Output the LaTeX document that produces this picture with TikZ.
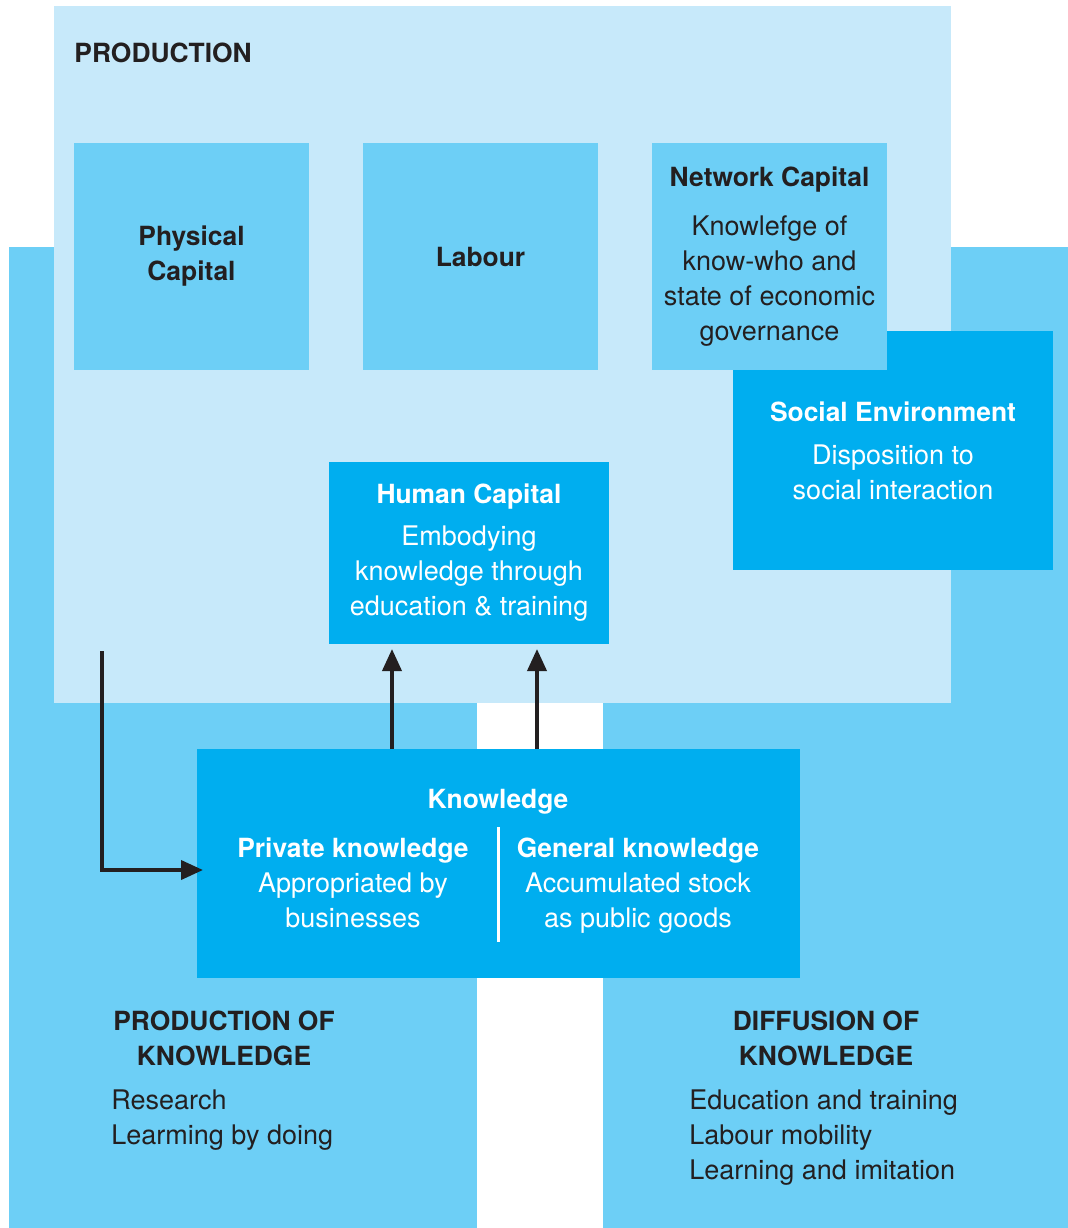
\documentclass[tikz,border=0pt]{standalone}
\usepackage{fontspec}
\setmainfont{TeX Gyre Heros}
\usetikzlibrary{arrows.meta,positioning,calc}

\definecolor{paleblue}{HTML}{C7E9FA}
\definecolor{midblue}{HTML}{6DCFF6}
\definecolor{deepblue}{HTML}{00AEEF}
\definecolor{ink}{HTML}{231F20}

\newcommand\bodysize{\fontsize{13.5}{17.5}\selectfont}
\newcommand\headsize{\fontsize{13.2}{17.5}\selectfont\bfseries}

\tikzset{
  zone/.style={fill=#1, inner sep=0pt, outer sep=0pt, anchor=north west},
  panel/.style={zone=#1, align=center, font=\bodysize},
  head/.style={inner sep=0pt, align=center, font=\headsize, text=ink},
  plain/.style={inner sep=0pt, align=left, font=\bodysize, text=ink},
  flow/.style={draw=ink, line width=1.9pt, -{Triangle[length=11pt,width=9.5pt]}},
  divider/.style={draw=white, line width=1.5pt}
}

\begin{document}
\begin{tikzpicture}[x=0.5pt, y=-0.5pt]
  \useasboundingbox (0,0) rectangle (1068,1228);

  \node[zone=midblue, minimum width=234pt, minimum height=490.5pt]   (prodknow) at (9,247)   {};
  \node[zone=midblue, minimum width=232.5pt, minimum height=490.5pt] (diffknow) at (603,247) {};
  \node[zone=paleblue, minimum width=448.5pt, minimum height=348.5pt] (production) at (54,6) {};

  \node[panel=midblue, minimum width=117.5pt, minimum height=113.5pt, text=ink] (physical) at (74,143)
    {\headsize Physical\\\headsize Capital};
  \node[panel=midblue, minimum width=117.5pt, minimum height=113.5pt, text=ink] (labour) at (363,143)
    {\headsize Labour};
  \node[panel=deepblue, minimum width=160pt, minimum height=119.5pt, text=white] (social) at (733,331)
    {{\headsize Social Environment}\\[4pt] Disposition to\\ social interaction};
  \node[panel=midblue, minimum width=117.5pt, minimum height=113.5pt, text=ink] (network) at (652,143)
    {{\headsize Network Capital}\\[7pt] Knowlefge of\\ know-who and\\ state of economic\\ governance};
  \node[panel=deepblue, minimum width=140pt, minimum height=91pt, text=white] (human) at (329,462)
    {{\headsize Human Capital}\\[3.5pt] Embodying\\ knowledge through\\ education \& training};
  \node[zone=deepblue, minimum width=301.5pt, minimum height=114.5pt] (knowledge) at (197,749) {};

  \node[head, anchor=west] (prodtitle) at (74,53) {PRODUCTION};

  \node[head, text=white] (knowtitle) at (498,802) {Knowledge};
  \node[head, text=white, font=\bodysize] (private) at (353,883)
    {{\headsize Private knowledge}\\ Appropriated by\\ businesses};
  \node[head, text=white, font=\bodysize] (general) at (638,886)
    {{\headsize General knowledge}\\ Accumulated stock\\ as public goods};
  \draw[divider] ($(knowledge.north)+(0,78)$) -- ($(knowledge.south)+(0,-36)$);

  \node[head] (prodhead) at (224,1038) {PRODUCTION OF\\KNOWLEDGE};
  \node[plain, anchor=west] (prodlist) at (111,1120.5) {Research\\ Learming by doing};
  \node[head] (diffhead) at (826,1038) {DIFFUSION OF\\KNOWLEDGE};
  \node[plain, anchor=west] (difflist) at (689,1138)
    {Education and training\\ Labour mobility\\ Learning and imitation};

  \coordinate (feed) at (102,651);
  \draw[flow, shorten >=-3pt] (feed) |- ($(knowledge.west)+(0,6.5)$);
  \draw[flow, shorten >=2.5pt] ($(knowledge.north west)+(195,0)$) -- ($(human.south west)+(63,0)$);
  \draw[flow, shorten >=2.5pt] ($(knowledge.north west)+(340,0)$) -- ($(human.south west)+(208,0)$);
\end{tikzpicture}
\end{document}
